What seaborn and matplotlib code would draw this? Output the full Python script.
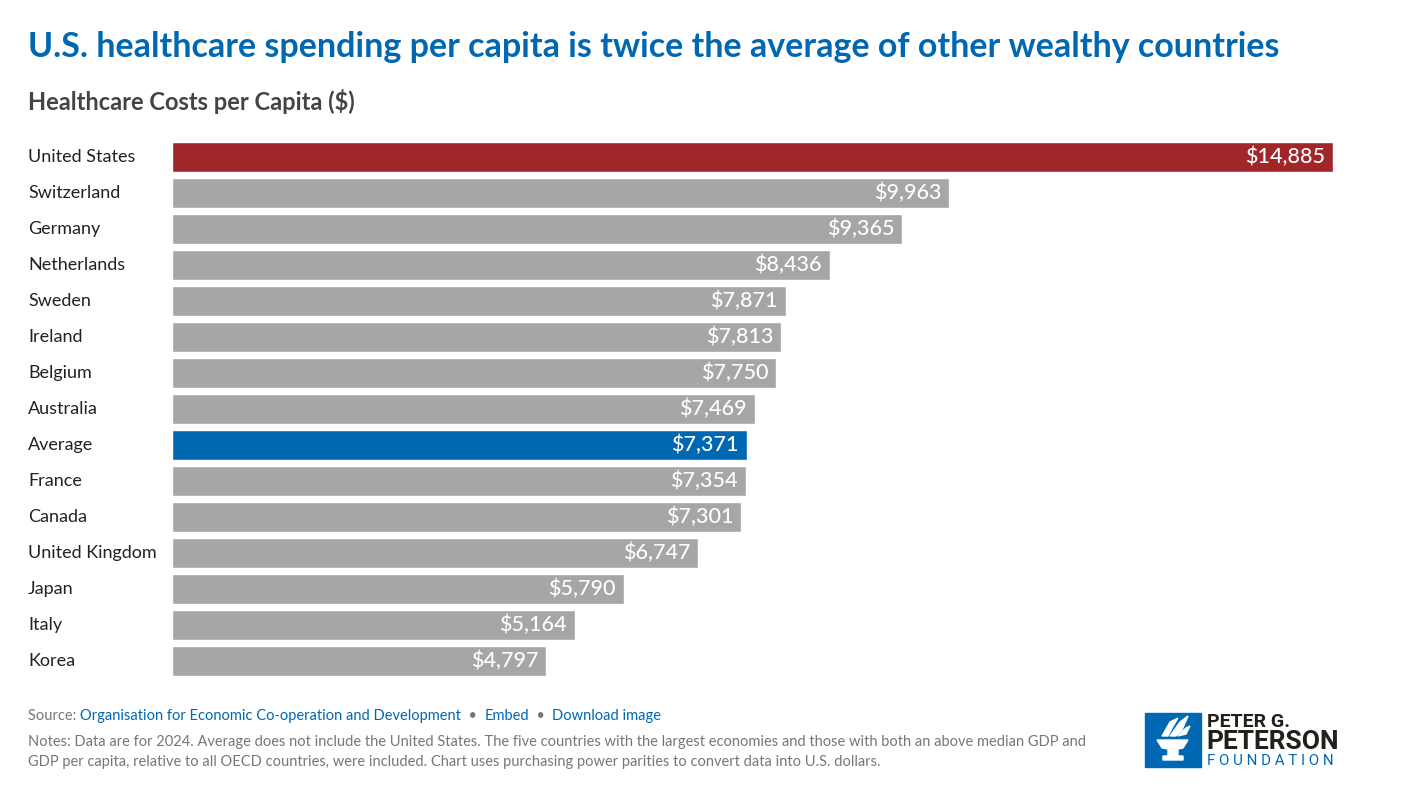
import matplotlib
matplotlib.use("Agg")
import matplotlib.pyplot as plt
import matplotlib.patches as mpatches
import seaborn as sns
import pandas as pd

# data
countries = ["United States", "Switzerland", "Germany", "Netherlands", "Sweden",
             "Ireland", "Belgium", "Australia", "Average", "France", "Canada",
             "United Kingdom", "Japan", "Italy", "Korea"]
spending = [14885, 9963, 9365, 8436, 7871, 7813, 7750, 7469, 7371, 7354, 7301,
            6747, 5790, 5164, 4797]

GRAY = "#a6a6a6"
RED = "#a0262a"
BLUE = "#0068b3"
bar_colors = {c: GRAY for c in countries}
bar_colors["United States"] = RED
bar_colors["Average"] = BLUE

df = pd.DataFrame({"country": countries, "spending": spending})

sns.set_theme(style="white")
plt.rcParams["font.family"] = ["Lato", "DejaVu Sans"]

fig = plt.figure(figsize=(14.08, 7.99), dpi=100)
W, H = 1408, 799
ax = fig.add_axes([172 / W, 1 - 679 / H, (1333 - 172) / W, (679 - 139) / H])

sns.barplot(data=df, x="spending", y="country", hue="country",
            palette=bar_colors, legend=False, width=0.83, saturation=1, ax=ax)

ax.set_xlim(0, max(spending))
ax.set_ylim(len(countries) - 0.5, -0.5)
ax.set_xlabel("")
ax.set_ylabel("")
ax.set_xticks([])
ax.set_yticks([])
sns.despine(ax=ax, left=True, bottom=True)

# value labels inside the bars
for i, v in enumerate(spending):
    ax.annotate(f"${v:,}", xy=(v, i), xytext=(-8, 0), textcoords="offset pixels",
                ha="right", va="center", color="white", fontsize=15.5,
                fontweight="medium")

# country labels at the left
for i, c in enumerate(countries):
    ax.annotate(c, xy=(0, i), xycoords=("axes fraction", "data"),
                xytext=(28 - 172, 0), textcoords="offset pixels",
                ha="left", va="center", color="#222222", fontsize=13)

# titles
fig.text(28 / W, 1 - 47 / H, "U.S. healthcare spending per capita is twice the average of other wealthy countries",
         fontsize=24.5, fontweight="bold", color=BLUE, ha="left", va="center")
fig.text(28 / W, 1 - 101 / H, "Healthcare Costs per Capita ($)",
         fontsize=17, fontweight="bold", color="#444444", ha="left", va="center")

# source line
src_y = 1 - 716 / H
t = fig.text(28 / W, src_y, "Source: ", fontsize=10.5, color="#777777", ha="left", va="center")
fig.canvas.draw()
rend = fig.canvas.get_renderer()
x = 28
for part, col in [("Organisation for Economic Co-operation and Development", BLUE),
                  ("  \u2022  ", "#777777"), ("Embed", BLUE),
                  ("  \u2022  ", "#777777"), ("Download image", BLUE)]:
    x += t.get_window_extent(rend).width
    t = fig.text(x / W, src_y, part, fontsize=10.5, color=col, ha="left", va="center")

notes = ("Notes: Data are for 2024. Average does not include the United States. The five countries with the largest economies and those with both an above median GDP and\n"
         "GDP per capita, relative to all OECD countries, were included. Chart uses purchasing power parities to convert data into U.S. dollars.")
fig.text(28 / W, 1 - 752 / H, notes, fontsize=10.5, color="#777777", ha="left",
         va="center", linespacing=1.55)

# logo
fig.patches.append(mpatches.Rectangle((1145 / W, 1 - 767 / H), 56 / W, 54 / H,
                                      transform=fig.transFigure, color=BLUE))
torch = [(1157, 740), (1188, 740), (1183, 748), (1178, 749), (1178, 756),
         (1183, 756), (1183, 760), (1163, 760), (1163, 756), (1168, 756),
         (1168, 749), (1162, 748)]
fig.patches.append(mpatches.Polygon([(px / W, 1 - py / H) for px, py in torch],
                                    transform=fig.transFigure, color="white"))
for flame in [[(1162, 736), (1170, 722), (1178, 718), (1172, 728), (1168, 736)],
              [(1170, 736), (1180, 722), (1188, 716), (1182, 730), (1176, 736)],
              [(1178, 736), (1186, 728), (1190, 726), (1186, 734)]]:
    fig.patches.append(mpatches.Polygon([(px / W, 1 - py / H) for px, py in flame],
                                        transform=fig.transFigure, color="white"))
fig.text(1207 / W, 1 - 722 / H, "PETER G.", fontsize=14, fontweight="bold",
         color="#231f1a", ha="left", va="center", family=["Roboto", "DejaVu Sans"])
fig.text(1206 / W, 1 - 742 / H, "PETERSON", fontsize=19, fontweight="bold",
         color="#231f1a", ha="left", va="center", family=["Roboto", "DejaVu Sans"])
fig.text(1207 / W, 1 - 761 / H, "F O U N D A T I O N", fontsize=10.8,
         color=BLUE, ha="left", va="center", family=["Roboto", "DejaVu Sans"])

fig.savefig("out.png", dpi=100)
